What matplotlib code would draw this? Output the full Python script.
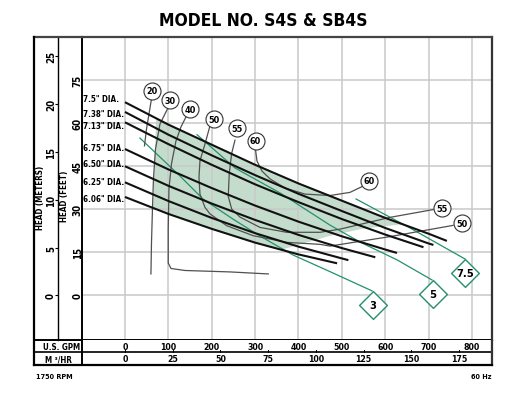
import numpy as np
import matplotlib.pyplot as plt
from matplotlib.lines import Line2D
from matplotlib.patches import Polygon

plt.rcParams['font.family'] = ['DejaVu Sans Condensed', 'DejaVu Sans']
plt.rcParams['font.stretch'] = 'condensed'
plt.rcParams['font.weight'] = 'bold'

W, H = 506, 402

# impeller curves: flow (US GPM) vs head (feet)
dia_labels = ['7.5" DIA.', '7.38" DIA.', '7.13" DIA.', '6.75" DIA.',
              '6.50" DIA.', '6.25" DIA.', '6.06" DIA.']
dia_label_head = [68.6, 63.5, 59.1, 51.6, 45.8, 39.8, 33.9]
dia_gpm = [
    [0, 100, 200, 300, 400, 500, 600, 700, 742],
    [0, 100, 200, 300, 400, 500, 600, 700, 711],
    [0, 100, 200, 300, 400, 500, 600, 688],
    [0, 100, 200, 300, 400, 500, 600, 627],
    [0, 100, 200, 300, 400, 500, 577],
    [0, 100, 200, 300, 400, 500, 515],
    [0, 100, 200, 300, 400, 489],
]
dia_head = [
    [67.3, 59.5, 52.5, 45.5, 39.0, 33.0, 27.0, 21.5, 19.0],
    [63.9, 56.0, 48.8, 41.9, 35.4, 29.4, 23.5, 18.1, 17.6],
    [60.3, 52.7, 45.5, 38.7, 32.5, 26.6, 21.2, 16.8],
    [51.0, 43.9, 37.4, 31.3, 25.7, 20.6, 16.0, 14.8],
    [45.0, 38.2, 32.0, 26.3, 21.1, 16.5, 13.3],
    [39.4, 32.9, 27.0, 21.7, 17.0, 12.9, 12.3],
    [34.3, 28.4, 23.2, 18.4, 14.3, 11.2],
]

# preferred operating region (shaded)
shade_gpm = [72, 100, 200, 300, 400, 500, 600, 640, 550, 473, 360, 300, 200, 100, 65]
shade_head = [61.7, 59.5, 52.5, 45.5, 39.0, 33.0, 27.0, 24.8, 23.3, 20.8, 15.9, 18.4, 23.2, 28.4, 30.5]

# efficiency lines (%)
eff_gpm = {
    '20': [61.1, 55.3, 49.6, 45.0],
    '30': [99.1, 80.7, 70.3, 65.7, 63.4, 61.1, 59.9],
    '40': [141.8, 129.1, 117.6, 107.2, 101.4, 99.8, 99.8, 106.1, 138.3, 242.1, 330.4],
    '50': [196.0, 184.4, 172.9, 170.6, 172.9, 184.4, 196.0, 234.5, 295.8, 372.8, 449.6, 472.6, 610.9, 756.2],
    '55': [253.6, 246.0, 240.4, 238.1, 246.0, 265.1, 311.2, 372.8, 449.6, 495.7, 611.0, 710.1],
    '60': [300.9, 304.3, 315.9, 334.3, 368.9, 415.0, 472.6, 518.7, 546.4],
}
eff_head = {
    '20': [68.4, 63.1, 57.9, 52.1],
    '30': [65.3, 59.7, 50.9, 40.6, 30.1, 17.9, 7.5],
    '40': [62.5, 58.7, 53.8, 45.8, 37.1, 23.1, 11.3, 9.4, 8.7, 8.2, 7.5],
    '50': [59.1, 52.7, 46.9, 41.1, 35.3, 30.7, 28.4, 24.3, 20.8, 18.5, 17.8, 17.2, 20.5, 24.4],
    '55': [54.1, 49.5, 42.5, 34.5, 30.1, 27.3, 23.7, 22.0, 22.0, 23.1, 27.2, 29.9],
    '60': [50.8, 46.8, 43.3, 40.6, 37.4, 35.3, 34.8, 35.9, 37.9],
}
eff_tag_text = ['20', '30', '40', '50', '55', '60', '60', '55', '50']
eff_tag_gpm = [62.2, 104.4, 149.9, 206.3, 258.2, 300.9, 563.2, 730.1, 776.3]
eff_tag_head = [71.3, 68.0, 64.9, 61.4, 58.3, 53.9, 40.0, 30.4, 25.2]

# horsepower lines
hp_gpm = {
    '3': [34.6, 126.8, 179.8, 249.0, 311.2, 387.3, 472.6, 569.5],
    '5': [166.0, 253.6, 357.4, 472.6, 541.8, 627.1, 707.8],
    '7.5': [532.6, 657.1, 783.9],
}
hp_head = {
    '3': [54.8, 41.6, 33.6, 26.6, 20.7, 14.1, 8.3, 1.6],
    '5': [56.0, 44.4, 35.7, 24.5, 18.6, 12.4, 5.4],
    '7.5': [33.6, 23.5, 12.7],
}
hp_tag_text = ['3', '5', '7.5']
hp_tag_gpm = [571.1, 708.9, 784.6]
hp_tag_head = [-3.2, 0.6, 7.8]

gpm_ticks = [0, 100, 200, 300, 400, 500, 600, 700, 800]
feet_ticks = [0, 15, 30, 45, 60, 75]
meter_ticks = [0, 5, 10, 15, 20, 25]
m3_ticks = [0, 25, 50, 75, 100, 125, 150, 175]
GPM_PER_M3 = 4.403
FT_PER_M = 3.34

green = '#23916a'
shade = '#c4dccb'
grey = '#505050'

fig = plt.figure(figsize=(W / 100, H / 100), dpi=100)

def fx(px):
    return px / W

def fy(py):
    return 1 - py / H

ax = fig.add_axes([fx(82), fy(340.7), (492 - 82) / W, (340.7 - 38) / H])
ax.set_xlim(-99, 846)
ax.set_ylim(-15.4, 90)
ax.set_xticks(gpm_ticks)
ax.set_yticks(feet_ticks)
ax.grid(True, color='#c9c9c9', lw=1.1, zorder=0)
ax.tick_params(axis='x', length=0, labelbottom=False)
ax.tick_params(axis='y', length=0, pad=-0.5, labelsize=7, labelrotation=90)
for lab in ax.get_yticklabels():
    lab.set_va('center')
for s in ['left', 'bottom']:
    ax.spines[s].set_linewidth(1.4)
    ax.spines[s].set_color('black')
ax.spines['top'].set_linewidth(1.6)
ax.spines['top'].set_color('#444444')
ax.spines['right'].set_linewidth(1.6)
ax.spines['right'].set_color('#333333')

sec = ax.secondary_yaxis((58 - 82) / 410, functions=(lambda f: f / FT_PER_M, lambda m: m * FT_PER_M))
sec.set_yticks(meter_ticks)
sec.tick_params(axis='y', length=2.5, width=0.8, pad=-1, labelsize=7, labelrotation=90)
sec.spines['left'].set_linewidth(1.0)
for lab in sec.get_yticklabels():
    lab.set_va('center')

# shaded region
ax.add_patch(Polygon(np.column_stack([shade_gpm, shade_head]), closed=True,
                     facecolor=shade, edgecolor='none', zorder=1))

# horsepower lines
for k in hp_gpm:
    ax.plot(hp_gpm[k], hp_head[k], color=green, lw=0.9, zorder=2)
ax.scatter(hp_tag_gpm, hp_tag_head, marker='D', s=200, facecolor='white',
           edgecolor=green, lw=1.0, zorder=6)
for t, x, y in zip(hp_tag_text, hp_tag_gpm, hp_tag_head):
    ax.text(x, y, t, ha='center', va='center', fontsize=8, zorder=7)

# efficiency lines
for k in eff_gpm:
    ax.plot(eff_gpm[k], eff_head[k], color=grey, lw=0.9, zorder=3)
ax.scatter(eff_tag_gpm, eff_tag_head, marker='o', s=150, facecolor='white',
           edgecolor='#333333', lw=0.8, zorder=6)
for t, x, y in zip(eff_tag_text, eff_tag_gpm, eff_tag_head):
    ax.text(x, y, t, ha='center', va='center', fontsize=6.5, zorder=7)

# impeller curves
for g, h in zip(dia_gpm, dia_head):
    ax.plot(g, h, color='#111111', lw=1.5, zorder=4, solid_capstyle='butt')
for lab, y in zip(dia_labels, dia_label_head):
    ax.text(-96, y, lab, ha='left', va='center', fontsize=5.8, zorder=7)

# bottom table
tax = fig.add_axes([fx(82), fy(366), (492 - 82) / W, (366 - 340.7) / H])
tax.set_xlim(ax.get_xlim())
tax.set_ylim(0, 2)
tax.set_xticks([])
tax.set_yticks([])
for s in tax.spines.values():
    s.set_visible(False)
tax.axhline(1, color='black', lw=1.2)
for g in gpm_ticks:
    tax.text(g, 1.5, str(g), ha='center', va='center', fontsize=6.3)
for m in m3_ticks:
    tax.text(m * GPM_PER_M3, 0.5, str(m), ha='center', va='center', fontsize=6.3)
    tax.plot([m * GPM_PER_M3] * 2, [1, 1.18], color='black', lw=0.7)

def fline(x0, y0, x1, y1, lw, c='black'):
    fig.add_artist(Line2D([fx(x0), fx(x1)], [fy(y0), fy(y1)], lw=lw, color=c,
                          transform=fig.transFigure, solid_capstyle='projecting'))

fline(34, 38, 82, 38, 1.6, '#444444')
fline(34, 38, 34, 366, 1.6)
fline(82, 340.7, 82, 366, 1.4)
fline(492, 340.7, 492, 366, 1.6, '#333333')
fline(34, 340.7, 82, 340.7, 1.4)
fline(34, 353.3, 82, 353.3, 1.2)
fline(34, 366, 492, 366, 1.6)

fig.text(fx(61.5), fy(347.3), 'U.S. GPM', ha='center', va='center', fontsize=5.8)
fig.text(fx(58.5), fy(359.8), 'M ³/HR', ha='center', va='center', fontsize=5.8)
fig.text(fx(40.5), fy(197.5), 'HEAD (METERS)', ha='center', va='center', rotation=90, fontsize=5.8)
fig.text(fx(64.5), fy(196.5), 'HEAD (FEET)', ha='center', va='center', rotation=90, fontsize=5.8)
fig.text(fx(263), fy(21.5), 'MODEL NO. S4S & SB4S', ha='center', va='center', fontsize=12.5)
fig.text(fx(36), fy(377.5), '1750 RPM', ha='left', va='center', fontsize=5.2)
fig.text(fx(491.5), fy(377.5), '60 Hz', ha='right', va='center', fontsize=5.2)

fig.savefig('out.png', dpi=100)
